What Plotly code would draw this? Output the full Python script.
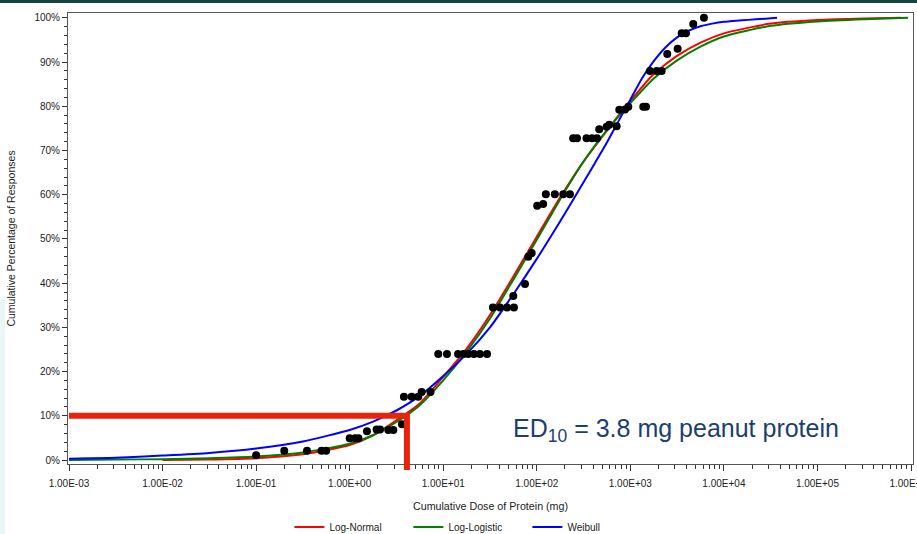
import plotly.graph_objects as go

# ---------------- data ----------------
# observed cumulative responses (dose in mg, cumulative %)
obs_dose = [0.1, 0.2, 0.35, 0.50, 0.56, 1.0, 1.14, 1.24, 1.53, 1.94, 2.11, 2.59, 2.93, 3.62,
            3.80, 4.60, 5.41, 5.88, 7.31, 8.85, 10.96, 14.4, 16.4, 18.5, 21.3, 24.7, 29.4,
            34.0, 40.4, 48.0, 57.0, 56.1, 74.8, 81.1, 88.2, 101, 117, 125, 156, 192, 226,
            245, 269, 340, 389, 440, 465, 558, 595, 714, 762, 877, 951, 1375, 1470,
            1620, 1912, 2161, 2482, 3205, 3538, 3929, 4705, 6120]
obs_pct = [1.1, 2.1, 2.1, 2.1, 2.1, 4.9, 4.9, 4.9, 6.5, 6.9, 6.9, 6.8, 6.8, 8.1,
           14.3, 14.3, 14.3, 15.4, 15.4, 24.0, 24.0, 24.0, 24.0, 24.0, 24.0, 24.0, 24.0,
           34.5, 34.5, 34.5, 34.5, 37.1, 39.8, 46.0, 46.8, 57.5, 57.9, 60.1, 60.1, 60.1, 60.1,
           72.8, 72.8, 72.8, 72.8, 72.8, 74.8, 75.4, 75.8, 75.5, 79.2, 79.3, 79.9, 79.9, 79.9,
           88.0, 88.0, 88.0, 91.8, 93.0, 96.5, 96.5, 98.6, 100.0]

# fitted curves
ln_dose = [0.01, 0.0316, 0.1, 0.316, 1, 1.78, 3.16, 5.62, 10, 17.8, 31.6, 56.2, 100, 178,
           316, 562, 1000, 1780, 3160, 5620, 10000, 31600, 100000, 316000, 780000]
ln_pct = [0.0, 0.1, 0.4, 1.3, 3.4, 5.6, 9.0, 12.8, 18.8, 25.2, 32.8, 41.5, 50.5, 59.4,
          67.5, 74.5, 81.2, 87.3, 91.4, 94.4, 96.5, 98.7, 99.5, 99.85, 100.0]

ll_dose = [0.001, 0.00316, 0.01, 0.0316, 0.1, 0.316, 1, 1.78, 3.16, 5.62, 10, 17.8, 31.6,
           56.2, 100, 178, 316, 562, 1000, 1780, 3160, 5620, 10000, 31600, 100000, 316000, 930000]
ll_pct = [0.0, 0.1, 0.2, 0.4, 0.8, 1.7, 3.7, 5.6, 8.6, 12.4, 18.0, 24.5, 32.0,
          40.8, 49.8, 59.0, 67.5, 74.6, 80.7, 86.3, 90.4, 93.5, 95.8, 98.2, 99.2, 99.7, 100.0]

wb_dose = [0.001, 0.00316, 0.01, 0.0316, 0.1, 0.316, 1, 1.78, 3.16, 5.62, 10, 17.8, 31.6,
           56.2, 100, 178, 316, 422, 562, 750, 1000, 1330, 1780, 2370, 3160, 4220, 5620,
           7500, 10000, 31600, 37000]
wb_pct = [0.3, 0.5, 1.0, 1.6, 2.6, 4.2, 6.8, 8.7, 11.2, 14.5, 19.0, 24.0, 30.0,
          37.5, 45.5, 54.0, 62.8, 67.3, 71.8, 76.7, 81.5, 86.3, 90.2, 93.3, 95.6, 97.1, 98.1,
          98.7, 99.1, 99.9, 100.0]

series_names = ["Log-Normal", "Log-Logistic", "Weibull"]
series_colors = ["#FF0000", "#008000", "#0000FF"]

x_tickvals = [1e-3, 1e-2, 1e-1, 1e0, 1e1, 1e2, 1e3, 1e4, 1e5, 1e6]
x_ticktext = ["1.00E-03", "1.00E-02", "1.00E-01", "1.00E+00", "1.00E+01",
              "1.00E+02", "1.00E+03", "1.00E+04", "1.00E+05", "1.00E+06"]
y_tickvals = list(range(0, 101, 10))
y_ticktext = [f"{v}%" for v in y_tickvals]

ed10 = 3.8
ed10_pct = 10

# ---------------- figure ----------------
W, H = 917, 534
ML, MR, MT, MB = 68, 4, 13, 70
x_range = [-3.0107, 6.0214]
y_range = [-0.9, 101.1]
plot_h = H - MT - MB
plot_w = W - ML - MR

def ypaper(v):
    return (v - y_range[0]) / (y_range[1] - y_range[0])

FONT = "Liberation Sans, Arial, sans-serif"

fig = go.Figure()
for name, color, xs, ys in zip(series_names, series_colors,
                               [ln_dose, ll_dose, wb_dose], [ln_pct, ll_pct, wb_pct]):
    fig.add_trace(go.Scatter(x=xs, y=ys, mode="lines", name=name,
                             line=dict(color=color, width=2, shape="spline", smoothing=0.6)))

fig.add_trace(go.Scatter(x=obs_dose, y=obs_pct, mode="markers", showlegend=False,
                         marker=dict(color="black", size=8), name="Observed"))

minor_vals = [m * 10 ** e for e in range(-3, 6) for m in range(2, 10)]

fig.update_layout(
    width=W, height=H,
    margin=dict(l=ML, r=MR, t=MT, b=MB, autoexpand=False),
    paper_bgcolor="white", plot_bgcolor="white",
    font=dict(family=FONT, size=10, color="#222"),
    xaxis=dict(type="log", range=x_range, tickvals=x_tickvals, ticktext=x_ticktext,
               ticks="outside", ticklen=6, tickcolor="#333", showgrid=False, zeroline=False,
               showline=True, mirror=True, linecolor="#555", linewidth=1,
               tickfont=dict(size=10, color="#222"), ticklabeloverflow="allow",
               ticklabelstandoff=4,
               minor=dict(tickvals=minor_vals, ticks="outside", ticklen=4, tickcolor="#333"),
               title=dict(text="Cumulative Dose of Protein (mg)", font=dict(size=10.7, color="#222"),
                          standoff=15)),
    yaxis=dict(range=y_range, tickvals=y_tickvals, ticktext=y_ticktext,
               ticks="outside", ticklen=5, tickcolor="#333", showgrid=False, zeroline=False,
               showline=True, mirror=True, linecolor="#555", linewidth=1,
               tickfont=dict(size=10, color="#222"),
               minor=dict(dtick=2, ticks="outside", ticklen=3, tickcolor="#333"),
               title=dict(text="Cumulative Percentage of Responses", font=dict(size=10.5, color="#222"),
                          standoff=16)),
    legend=dict(orientation="h", x=0.262, xanchor="left", yref="container",
                y=(H - 527) / H, yanchor="middle", entrywidth=74,
                font=dict(size=10, color="#222"), bgcolor="rgba(0,0,0,0)"),
    showlegend=True,
)

# ED10 marker bars
fig.add_shape(type="line", xref="x", yref="y", x0=1e-3, x1=ed10, y0=ed10_pct, y1=ed10_pct,
              line=dict(color="#E8230B", width=6), layer="above")
fig.add_shape(type="rect", xref="x", yref="paper", xsizemode="pixel", xanchor=ed10,
              x0=0, x1=6, y0=-6 / plot_h, y1=ypaper(ed10_pct) + 3 / plot_h,
              fillcolor="#E8230B", line=dict(width=0), layer="above")

fig.add_annotation(xref="paper", yref="paper", x=(676 - ML) / plot_w, y=(H - MB - 430) / plot_h,
                   xanchor="center", yanchor="middle", showarrow=False,
                   text="ED<sub>10</sub> = 3.8 mg peanut protein",
                   font=dict(family=FONT, size=25, color="#1B3F6E"))

# decorative top band and faint left edge
fig.add_shape(type="rect", xref="paper", yref="paper", x0=-ML / plot_w, x1=1 + MR / plot_w,
              y0=1 + (MT - 3) / plot_h, y1=1 + MT / plot_h,
              fillcolor="#14453F", line=dict(width=0), layer="below")
fig.add_shape(type="rect", xref="paper", yref="paper", x0=-ML / plot_w, x1=(5 - ML) / plot_w,
              y0=-MB / plot_h, y1=(H - MB - 300) / plot_h,
              fillcolor="#EAF6F6", line=dict(width=0), layer="below")

fig.write_html("out.html")
